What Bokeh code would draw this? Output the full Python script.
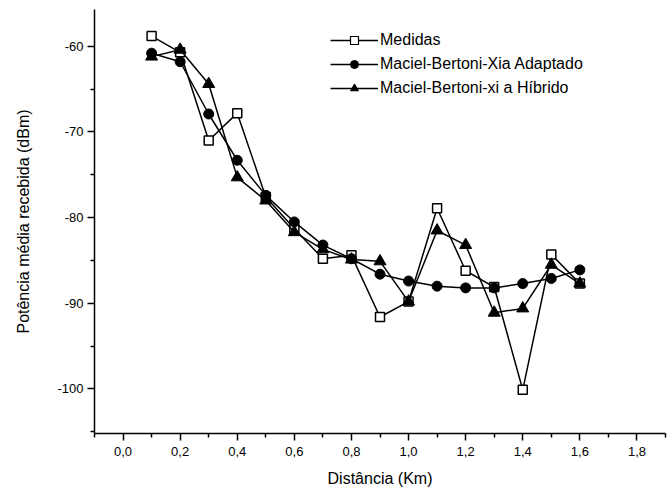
from bokeh.plotting import figure
from bokeh.models import FixedTicker, CustomJSTickFormatter, Legend, LegendItem, Range1d
from bokeh.embed import file_html
from bokeh.resources import INLINE

distancia = [0.1, 0.2, 0.3, 0.4, 0.5, 0.6, 0.7, 0.8, 0.9, 1.0, 1.1, 1.2, 1.3, 1.4, 1.5, 1.6]
medidas = [-58.8, -60.7, -71.0, -67.8, -77.6, -81.3, -84.8, -84.4, -91.6, -89.8, -78.9, -86.2, -88.1, -100.1, -84.3, -87.7]
adaptado = [-60.8, -61.8, -67.9, -73.3, -77.4, -80.5, -83.2, -84.8, -86.6, -87.4, -88.0, -88.2, -88.2, -87.7, -87.1, -86.1]
hibrido = [-61.2, -60.4, -64.4, -75.3, -78.0, -81.7, -83.7, -84.9, -85.1, -89.8, -81.5, -83.2, -91.1, -90.6, -85.5, -87.7]

x_major = [0.0, 0.2, 0.4, 0.6, 0.8, 1.0, 1.2, 1.4, 1.6, 1.8]
x_minor = [-0.1, 0.1, 0.3, 0.5, 0.7, 0.9, 1.1, 1.3, 1.5, 1.7, 1.9]
y_major = [-100, -90, -80, -70, -60]
y_minor = [-105, -95, -85, -75, -65]

legend_labels = ["Medidas", "Maciel-Bertoni-Xia Adaptado", "Maciel-Bertoni-xi a Híbrido"]
x_title = "Distância (Km)"
y_title = "Potência média recebida (dBm)"

FONT = "'Liberation Sans Narrow', 'Liberation Sans', Arial"
NAN = float("nan")

p = figure(frame_width=571, frame_height=424, output_backend="svg", toolbar_location=None,
           x_range=Range1d(-0.1, 1.9), y_range=Range1d(-105.2, -55.7),
           min_border_left=94, min_border_right=7, min_border_top=9, min_border_bottom=61)
p.outline_line_color = None
p.xgrid.visible = False
p.ygrid.visible = False

r1l = p.line(distancia, medidas, line_color="black", line_width=1.5)
r1s = p.scatter(distancia, medidas, marker="square", size=9, fill_color="white", line_color="black", line_width=1.5)
r2l = p.line(distancia, adaptado, line_color="black", line_width=1.5)
r2s = p.scatter(distancia, adaptado, marker="circle", size=10, fill_color="black", line_color="black")
r3l = p.line(distancia, hibrido, line_color="black", line_width=1.5)
r3s = p.scatter(distancia, hibrido, marker="triangle", size=12, fill_color="black", line_color="black")

# legend-only renderers (smaller markers, nothing drawn in the plot)
l1l = p.line([NAN], [NAN], line_color="black", line_width=1.5)
l1s = p.scatter([NAN], [NAN], marker="square", size=7, fill_color="white", line_color="black", line_width=1.2)
l2l = p.line([NAN], [NAN], line_color="black", line_width=1.5)
l2s = p.scatter([NAN], [NAN], marker="circle", size=9, fill_color="black", line_color="black")
l3l = p.line([NAN], [NAN], line_color="black", line_width=1.5)
l3s = p.scatter([NAN], [NAN], marker="triangle", size=10, fill_color="black", line_color="black")

for ax in (p.xaxis[0], p.yaxis[0]):
    ax.axis_line_color = "black"
    ax.axis_line_width = 1.5
    ax.major_tick_line_width = 1.5
    ax.minor_tick_line_width = 1.5
    ax.major_tick_in = 0
    ax.major_tick_out = 7
    ax.minor_tick_in = 0
    ax.minor_tick_out = 4
    ax.major_label_text_font = FONT
    ax.major_label_text_font_size = "13px"
    ax.major_label_text_color = "black"
    ax.axis_label_text_font = FONT
    ax.axis_label_text_font_size = "16px"
    ax.axis_label_text_font_style = "normal"
    ax.axis_label_text_color = "black"

p.xaxis[0].ticker = FixedTicker(ticks=x_major, minor_ticks=x_minor)
p.xaxis[0].formatter = CustomJSTickFormatter(code="return tick.toFixed(1).replace('.', ',');")
p.xaxis[0].axis_label = x_title
p.xaxis[0].major_label_standoff = 6
p.xaxis[0].axis_label_standoff = 11

p.yaxis[0].ticker = FixedTicker(ticks=y_major, minor_ticks=y_minor)
p.yaxis[0].formatter = CustomJSTickFormatter(code="return '-' + Math.abs(tick).toFixed(0);")
p.yaxis[0].major_label_standoff = 4
p.yaxis[0].axis_label = y_title
p.yaxis[0].axis_label_standoff = 22

legend = Legend(items=[
    LegendItem(label=legend_labels[0], renderers=[l1l, l1s]),
    LegendItem(label=legend_labels[1], renderers=[l2l, l2s]),
    LegendItem(label=legend_labels[2], renderers=[l3l, l3s]),
], location=(236, 335))
legend.padding = 0
legend.margin = 0
legend.spacing = 4
legend.glyph_width = 48
legend.glyph_height = 20
legend.label_standoff = 2
legend.border_line_alpha = 0
legend.background_fill_alpha = 0
legend.label_text_font = FONT
legend.label_text_font_size = "16px"
legend.label_text_color = "black"
p.add_layout(legend)

open("out.html", "w").write(file_html(p, INLINE))
